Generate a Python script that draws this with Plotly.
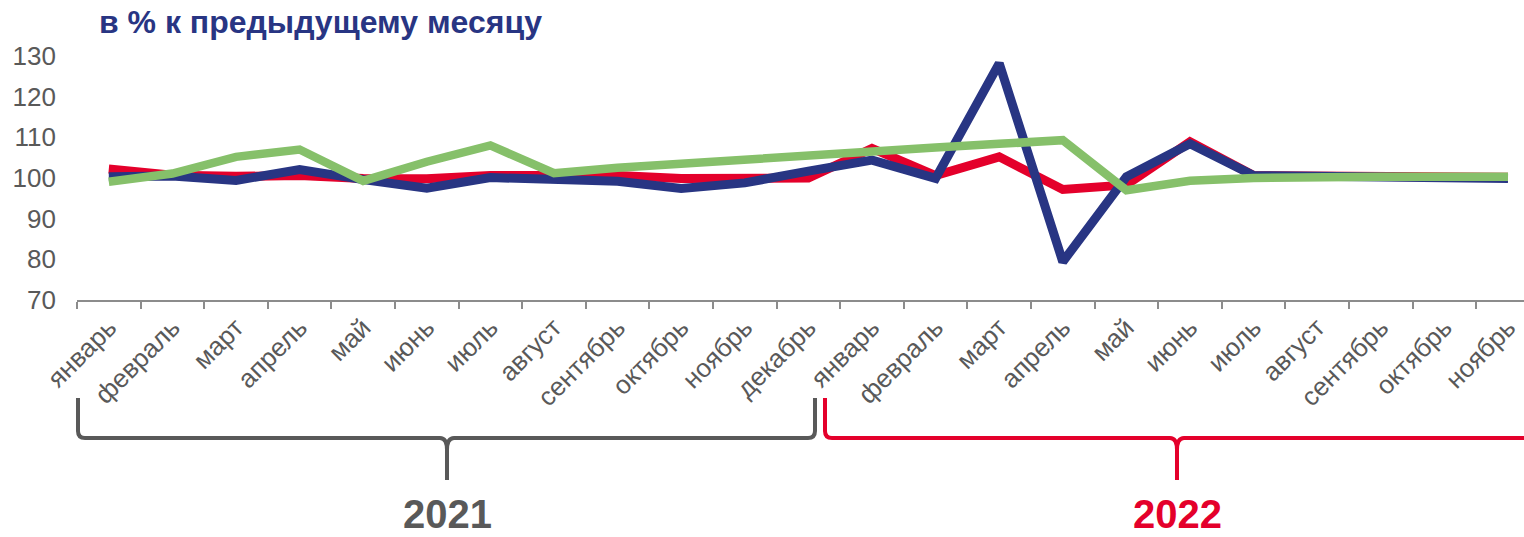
import plotly.graph_objects as go

months = ["январь", "февраль", "март", "апрель", "май", "июнь", "июль", "август",
          "сентябрь", "октябрь", "ноябрь", "декабрь",
          "январь", "февраль", "март", "апрель", "май", "июнь", "июль", "август",
          "сентябрь", "октябрь", "ноябрь"]

red_series = [102.2, 100.7, 100.4, 100.6, 99.9, 99.8, 100.6, 100.6, 100.6, 99.9, 100.2, 100.0,
              107.3, 100.6, 105.2, 97.2, 98.3, 108.9, 100.6, 100.4, 100.3, 100.2, 100.2]
navy_series = [100.3, 100.5, 99.4, 102.1, 99.6, 97.5, 100.1, 99.9, 99.2, 97.4, 98.8, 101.7,
               104.4, 99.9, 128.2, 79.4, 100.3, 108.4, 100.6, 100.4, 100.2, 100.1, 99.9]
green_series = [99.1, 101.1, 105.2, 107.0, 99.3, 104.0, 108.0, 101.2, 102.5, 103.6, 104.7, 105.7,
                106.7, 107.5, 108.4, 109.3, 97.0, 99.3, 100.0, 100.4, 100.3, 100.3, 100.3]

year_labels = ["2021", "2022"]
title_text = "в % к предыдущему месяцу"

RED = "#E4002B"
NAVY = "#283583"
GREEN = "#86C06A"
GRAY = "#595959"
AXIS = "#8C8C8C"
FONT = "Liberation Sans, Arial, sans-serif"

W, H = 1524, 537
L, R, T, B = 77, 0, 56, 237
PW, PH = W - L - R, H - T - B

def px(x):
    return (x - L) / PW

def py(y):
    return (H - B - y) / PH

x = list(range(len(months)))

fig = go.Figure()
for ys, col, w in [(red_series, RED, 9), (navy_series, NAVY, 9), (green_series, GREEN, 8.5)]:
    fig.add_trace(go.Scatter(x=x, y=ys, mode="lines",
                             line=dict(color=col, width=w),
                             hoverinfo="skip", showlegend=False))

def brace(x0, x1, xc, color):
    yt, yh, yb, r = 398, 438, 480, 7
    def P(a, b):
        return f"{px(a):.5f},{py(b):.5f}"
    path = (f"M {P(x0, yt)} L {P(x0, yh - r)} Q {P(x0, yh)} {P(x0 + r, yh)} "
            f"L {P(xc - 7, yh)} Q {P(xc, yh)} {P(xc, yh + 12)} L {P(xc, yb)} "
            f"M {P(xc, yb)} L {P(xc, yh + 12)} Q {P(xc, yh)} {P(xc + 7, yh)} "
            f"L {P(x1 - r, yh)} Q {P(x1, yh)} {P(x1, yh - r)} L {P(x1, yt)}")
    return dict(type="path", path=path, xref="paper", yref="paper",
                line=dict(color=color, width=4), layer="above")

shapes = [brace(78, 815, 447, GRAY), brace(825, 1530, 1177, RED)]

annotations = [
    dict(text=f"<b>{title_text}</b>", x=px(97), y=py(22), xref="paper", yref="paper",
         xanchor="left", yanchor="middle", showarrow=False,
         font=dict(family=FONT, size=32, color=NAVY)),
    dict(text=f"<b>{year_labels[0]}</b>", x=px(447), y=py(537), xref="paper", yref="paper",
         xanchor="center", yanchor="bottom", showarrow=False, borderpad=0,
         font=dict(family=FONT, size=40, color=GRAY)),
    dict(text=f"<b>{year_labels[1]}</b>", x=px(1177), y=py(537), xref="paper", yref="paper",
         xanchor="center", yanchor="bottom", showarrow=False, borderpad=0,
         font=dict(family=FONT, size=40, color=RED)),
]

fig.update_layout(
    width=W, height=H,
    margin=dict(l=L, r=R, t=T, b=B, pad=0),
    paper_bgcolor="white", plot_bgcolor="white",
    showlegend=False,
    shapes=shapes,
    annotations=annotations,
    xaxis=dict(
        range=[-0.5, -0.5 + PW / 63.6],
        tickmode="array", tickvals=x, ticktext=months,
        tickangle=-45, ticks="", showgrid=False, zeroline=False,
        showline=True, linecolor=AXIS, linewidth=2,
        tickfont=dict(family=FONT, size=26, color=GRAY),
        minor=dict(tickmode="array", tickvals=[i - 0.5 for i in range(len(months) + 1)],
                   ticks="outside", ticklen=7, tickwidth=2, tickcolor=AXIS, showgrid=False),
        fixedrange=True,
    ),
    yaxis=dict(
        range=[70, 130], tickmode="array", tickvals=[70, 80, 90, 100, 110, 120, 130],
        showgrid=False, zeroline=False, showline=False, ticks="",
        tickfont=dict(family=FONT, size=26, color=GRAY),
        ticklabelstandoff=20,
        fixedrange=True,
    ),
)

fig.write_html("out.html", config={"displayModeBar": False},
               post_script="document.body.style.margin='0px';document.body.style.overflow='hidden';")
